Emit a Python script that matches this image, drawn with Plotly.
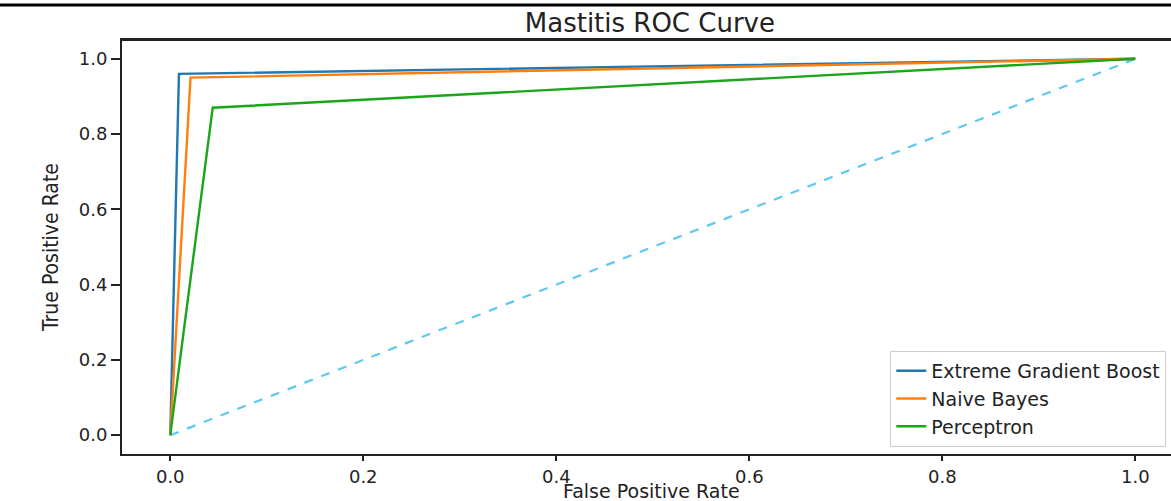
import plotly.graph_objects as go

models = ["Extreme Gradient Boost", "Naive Bayes", "Perceptron"]
fpr = {
    "Extreme Gradient Boost": [0.0, 0.009, 1.0],
    "Naive Bayes": [0.0, 0.021, 1.0],
    "Perceptron": [0.0, 0.044, 1.0],
}
tpr = {
    "Extreme Gradient Boost": [0.0, 0.96, 1.0],
    "Naive Bayes": [0.0, 0.95, 1.0],
    "Perceptron": [0.0, 0.87, 1.0],
}
colors = {"Extreme Gradient Boost": "#1f77b4", "Naive Bayes": "#ff7f0e", "Perceptron": "#1aa51a"}
chance_x = [0.0, 1.0]
chance_y = [0.0, 1.0]
tick_vals = [0, 0.2, 0.4, 0.6, 0.8, 1.0]
tick_text = ["0.0", "0.2", "0.4", "0.6", "0.8", "1.0"]

fig = go.Figure()
fig.add_trace(go.Scatter(x=chance_x, y=chance_y, mode="lines", showlegend=False,
                         line=dict(color="#5ec8f2", width=2.2, dash="dash")))
for m in models:
    fig.add_trace(go.Scatter(x=fpr[m], y=tpr[m], mode="lines", name=m,
                             line=dict(color=colors[m], width=2.4)))

tick_font = dict(family="DejaVu Sans", size=18, color="#222")
fig.update_layout(
    width=1171, height=501,
    margin=dict(l=122, r=0, t=40, b=47),
    plot_bgcolor="white", paper_bgcolor="white",
    font=tick_font,
    title=dict(text="Mastitis ROC Curve", x=0.555, xanchor="center", y=0.955, yanchor="middle",
               font=dict(family="DejaVu Sans", size=26, color="#222")),
    xaxis=dict(range=[-0.05, 1.037], tickvals=tick_vals, ticktext=tick_text,
               showgrid=False, zeroline=False, showline=True, linecolor="#222", linewidth=2,
               mirror=True, ticks="outside", ticklen=5, tickcolor="#222", tickwidth=1.5,
               tickfont=tick_font, automargin=False),
    yaxis=dict(range=[-0.05, 1.05], tickvals=tick_vals, ticktext=tick_text,
               showgrid=False, zeroline=False, showline=True, linecolor="#222", linewidth=2,
               mirror=False, ticks="outside", ticklen=9, tickcolor="#222", tickwidth=1.5,
               tickfont=tick_font, automargin=False,
               title=dict(text="True Positive Rate", standoff=14,
                          font=dict(family="Liberation Sans Narrow, DejaVu Sans Condensed, DejaVu Sans",
                                    size=21, color="#222"))),
    legend=dict(x=0.9955, xanchor="right", y=0.017, yanchor="bottom",
                bgcolor="rgba(255,255,255,0.9)", bordercolor="#ccc", borderwidth=1,
                font=dict(family="DejaVu Sans", size=19, color="#222"),
                itemwidth=30, tracegroupgap=0),
)
fig.add_annotation(text="False Positive Rate", xref="paper", yref="paper", x=0.505, y=-0.089,
                   xanchor="center", yanchor="middle", showarrow=False,
                   font=dict(family="DejaVu Sans", size=19, color="#222"))
fig.add_shape(type="line", xref="paper", yref="paper", x0=-0.2, x1=1.0, y0=1.0845, y1=1.0845,
              line=dict(color="black", width=3))
fig.add_shape(type="line", x0=-0.05, x1=1.037, y0=1.05, y1=1.05, line=dict(color="#222", width=2))
fig.write_html("out.html", config={"displayModeBar": False},
               post_script="document.body.style.margin='0';")
